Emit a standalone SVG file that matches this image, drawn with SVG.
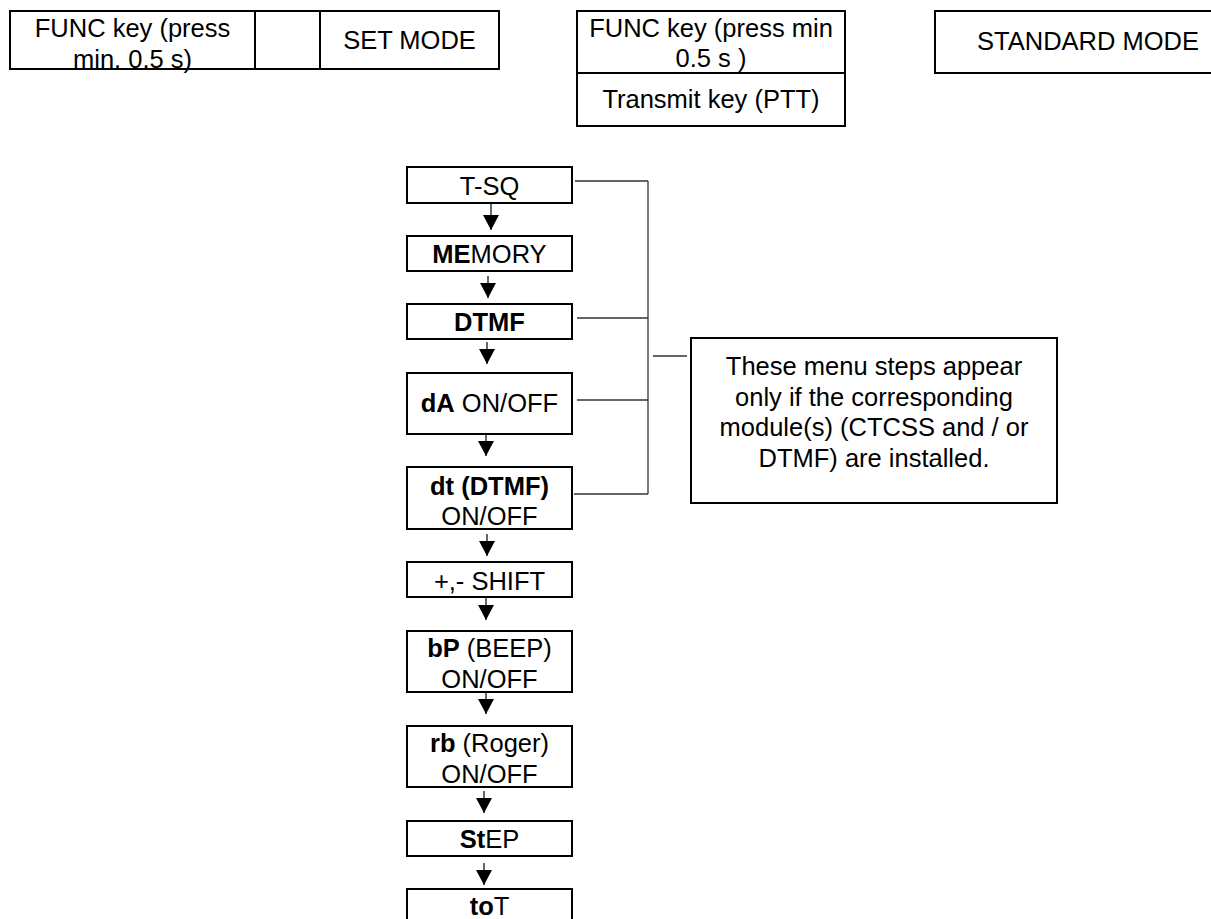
<svg xmlns="http://www.w3.org/2000/svg" width="1211" height="919" viewBox="0 0 1211 919">
<style>
.box{fill:#fff;stroke:#000;stroke-width:2}
.t{font-family:"Liberation Sans",Arial,sans-serif;font-size:25.5px;text-anchor:middle;fill:#000}
.b{font-weight:bold}
.conn{stroke:#333;stroke-width:1.3;fill:none}
.arr{stroke:#000;stroke-width:1.2;fill:none;marker-end:url(#ah)}
</style>
<defs>
<marker id="ah" viewBox="0 0 15 16" refX="15" refY="8" markerWidth="15" markerHeight="16" orient="auto" markerUnits="userSpaceOnUse">
<path d="M0,0 L15,8 L0,16 z" fill="#000"/>
</marker>
</defs>
<rect width="1211" height="919" fill="#fff"/>

<g id="table-set-mode">
<rect class="box" x="10" y="11" width="489" height="58"/>
<line x1="255" y1="11" x2="255" y2="69" stroke="#000" stroke-width="2"/>
<line x1="320" y1="11" x2="320" y2="69" stroke="#000" stroke-width="2"/>
<text class="t" x="132.5" y="37">FUNC key (press</text>
<text class="t" x="132.5" y="68">min. 0.5 s)</text>
<text class="t" x="409.5" y="49">SET MODE</text>
</g>

<g id="table-standard-keys">
<rect class="box" x="577" y="11" width="268" height="115"/>
<line x1="577" y1="73" x2="845" y2="73" stroke="#000" stroke-width="2"/>
<text class="t" x="711" y="37">FUNC key (press min</text>
<text class="t" x="711" y="67">0.5 s )</text>
<text class="t" x="711" y="108">Transmit key (PTT)</text>
</g>

<g id="standard-mode">
<rect class="box" x="935" y="11" width="310" height="62"/>
<text class="t" x="1088" y="50">STANDARD MODE</text>
</g>

<g id="n-tsq">
<rect class="box" x="407" y="167" width="165" height="36"/>
<text class="t" x="489.5" y="195">T-SQ</text>
</g>
<g id="n-memory">
<rect class="box" x="407" y="236" width="165" height="35"/>
<text class="t" x="489.5" y="263"><tspan class="b">ME</tspan>MORY</text>
</g>
<g id="n-dtmf">
<rect class="box" x="407" y="304" width="165" height="35"/>
<text class="t b" x="489.5" y="331">DTMF</text>
</g>
<g id="n-da">
<rect class="box" x="407" y="373" width="165" height="61"/>
<text class="t" x="489.5" y="412"><tspan class="b">dA</tspan> ON/OFF</text>
</g>
<g id="n-dt">
<rect class="box" x="407" y="467" width="165" height="62"/>
<text class="t b" x="489.5" y="495">dt (DTMF)</text>
<text class="t" x="489.5" y="525">ON/OFF</text>
</g>
<g id="n-shift">
<rect class="box" x="407" y="562" width="165" height="35"/>
<text class="t" x="489.5" y="590">+,- SHIFT</text>
</g>
<g id="n-bp">
<rect class="box" x="407" y="631" width="165" height="61"/>
<text class="t" x="489.5" y="657"><tspan class="b">bP</tspan> (BEEP)</text>
<text class="t" x="489.5" y="688">ON/OFF</text>
</g>
<g id="n-rb">
<rect class="box" x="407" y="726" width="165" height="61"/>
<text class="t" x="489.5" y="752"><tspan class="b">rb</tspan> (Roger)</text>
<text class="t" x="489.5" y="783">ON/OFF</text>
</g>
<g id="n-step">
<rect class="box" x="407" y="821" width="165" height="35"/>
<text class="t" x="489.5" y="848"><tspan class="b">St</tspan>EP</text>
</g>
<g id="n-tot">
<rect class="box" x="407" y="889" width="165" height="40"/>
<text class="t" x="489.5" y="915"><tspan class="b">to</tspan>T</text>
</g>

<g id="n-note">
<rect class="box" x="691" y="338" width="366" height="165"/>
<text class="t" x="874" y="375">These menu steps appear</text>
<text class="t" x="874" y="405.5">only if the corresponding</text>
<text class="t" x="874" y="436">module(s) (CTCSS and / or</text>
<text class="t" x="874" y="466.5">DTMF) are installed.</text>
</g>

<g id="connectors">
<line class="arr" x1="491" y1="204" x2="491" y2="230"/>
<line class="arr" x1="488" y1="276" x2="488" y2="298"/>
<line class="arr" x1="487" y1="342" x2="487" y2="364"/>
<line class="arr" x1="486" y1="435" x2="486" y2="456"/>
<line class="arr" x1="487" y1="534" x2="487" y2="556"/>
<line class="arr" x1="486" y1="598" x2="486" y2="620"/>
<line class="arr" x1="486" y1="692" x2="486" y2="714"/>
<line class="arr" x1="484" y1="791" x2="484" y2="813"/>
<line class="arr" x1="484" y1="863" x2="484" y2="885"/>
<line class="conn" x1="575" y1="181" x2="648" y2="181"/>
<line class="conn" x1="577" y1="318" x2="648" y2="318"/>
<line class="conn" x1="577" y1="400" x2="648" y2="400"/>
<line class="conn" x1="574" y1="494" x2="648" y2="494"/>
<line class="conn" x1="648" y1="181" x2="648" y2="494"/>
<line class="conn" x1="653" y1="356" x2="687" y2="356"/>
</g>
</svg>
